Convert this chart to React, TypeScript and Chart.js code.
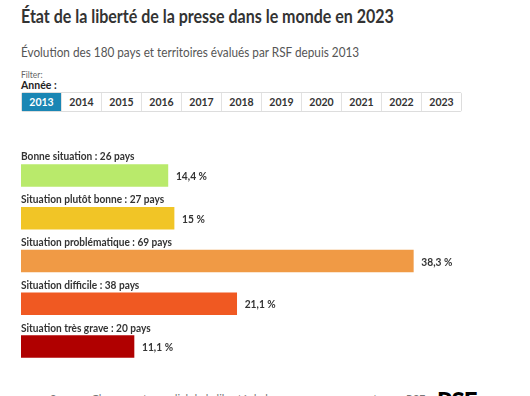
import React, { useEffect, useRef } from "react";
import { Chart, registerables } from "chart.js";

Chart.register(...registerables);

const categories = [
  "Bonne situation",
  "Situation plutôt bonne",
  "Situation problématique",
  "Situation difficile",
  "Situation très grave",
];
const countries = [26, 27, 69, 38, 20];
const percentages = [14.4, 15, 38.3, 21.1, 11.1];
const percentLabels = ["14,4 %", "15 %", "38,3 %", "21,1 %", "11,1 %"];
const colors = ["#b9ea6b", "#f1c526", "#f09a45", "#f05922", "#b00000"];
const years = ["2013", "2014", "2015", "2016", "2017", "2018", "2019", "2020", "2021", "2022", "2023"];

const FONT = "'Source Sans Pro', Lato, 'Open Sans', sans-serif";

const labelsPlugin = {
  id: "barLabels",
  afterDatasetsDraw(chart: any) {
    const { ctx } = chart;
    const meta = chart.getDatasetMeta(0);
    ctx.save();
    meta.data.forEach((bar: any, i: number) => {
      const props = bar.getProps(["x", "y", "base", "height"], true);
      const top = props.y - props.height / 2;
      ctx.fillStyle = "#333";
      ctx.font = `bold 11px ${FONT}`;
      ctx.textBaseline = "alphabetic";
      ctx.textAlign = "left";
      ctx.save();
      ctx.translate(props.base, top - 3);
      ctx.scale(0.92, 1);
      ctx.fillText(`${categories[i]} : ${countries[i]} pays`, 0, 0);
      ctx.restore();
      ctx.save();
      ctx.translate(props.x + 7, props.y + 1);
      ctx.scale(0.93, 1);
      ctx.textBaseline = "middle";
      ctx.fillText(percentLabels[i], 0, 0);
      ctx.restore();
    });
    ctx.restore();
  },
};

function BarChart() {
  const ref = useRef<HTMLCanvasElement | null>(null);
  useEffect(() => {
    if (!ref.current) return;
    const chart = new Chart(ref.current, {
      type: "bar",
      data: {
        labels: categories,
        datasets: [
          {
            data: percentages,
            backgroundColor: colors,
            borderColor: "rgba(255,255,255,0.6)",
            borderWidth: 1,
            barThickness: 24,
            categoryPercentage: 1,
          },
        ],
      },
      options: {
        indexAxis: "y",
        animation: false,
        responsive: false,
        maintainAspectRatio: false,
        layout: { padding: { left: 21, right: 36.6, top: 14.1, bottom: 12.1 } },
        plugins: { legend: { display: false }, tooltip: { enabled: false } },
        scales: {
          x: { display: false, min: 0, max: 46 },
          y: { display: false },
        },
      },
      plugins: [labelsPlugin],
    });
    return () => chart.destroy();
  }, []);
  return (
    <canvas
      ref={ref}
      width={530}
      height={240}
      style={{ position: "absolute", left: 0, top: 140, width: 530, height: 240 }}
    />
  );
}

export default function App() {
  return (
    <div
      style={{
        position: "fixed",
        left: 0,
        top: 0,
        width: 530,
        height: 396,
        overflow: "hidden",
        background: "#fff",
        fontFamily: FONT,
      }}
    >
      <div
        style={{
          position: "absolute",
          left: 21,
          top: 5,
          fontSize: 18.5,
          fontWeight: 700,
          color: "#333",
          whiteSpace: "nowrap",
          transform: "scaleX(0.865)",
          transformOrigin: "left top",
        }}
      >
        État de la liberté de la presse dans le monde en 2023
      </div>
      <div
        style={{
          position: "absolute",
          left: 21,
          top: 43,
          fontSize: 14,
          color: "#555",
          whiteSpace: "nowrap",
          transform: "scaleX(0.84)",
          transformOrigin: "left top",
        }}
      >
        Évolution des 180 pays et territoires évalués par RSF depuis 2013
      </div>
      <div style={{ position: "absolute", left: 21, top: 70, fontSize: 8.5, color: "#666" }}>Filter:</div>
      <div style={{ position: "absolute", left: 21, top: 79, fontSize: 10.5, fontWeight: 700, color: "#222" }}>
        Année :
      </div>
      <div
        style={{
          position: "absolute",
          left: 21,
          top: 92,
          height: 20,
          display: "flex",
          border: "1px solid #ddd",
          borderRadius: 2,
          boxSizing: "border-box",
          width: 441,
        }}
      >
        {years.map((y, i) => (
          <div
            key={y}
            style={{
              flex: 1,
              display: "flex",
              alignItems: "center",
              justifyContent: "center",
              fontSize: 10.5,
              fontWeight: 700,
              color: i === 0 ? "#fff" : "#333",
              background: i === 0 ? "#1a86b4" : "#fff",
              borderLeft: i === 0 ? "none" : "1px solid #e2e2e2",
            }}
          >
            {y}
          </div>
        ))}
      </div>
      <BarChart />
      <div
        style={{
          position: "absolute",
          left: 50,
          top: 392,
          fontSize: 11,
          color: "#777",
          whiteSpace: "nowrap",
        }}
      >
        Source : Classement mondial de la liberté de la presse – en pourcentage – RSF
      </div>
      <div
        style={{
          position: "absolute",
          left: 437,
          top: 386,
          fontSize: 24,
          fontWeight: 900,
          color: "#000",
          letterSpacing: -1,
        }}
      >
        RSF
      </div>
    </div>
  );
}
